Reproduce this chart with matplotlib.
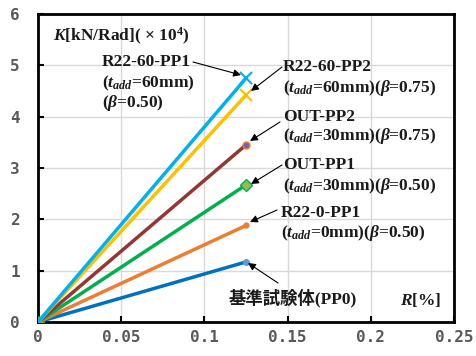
import matplotlib
matplotlib.use("Agg")
import matplotlib.pyplot as plt

plt.rcParams['mathtext.fontset'] = 'custom'
plt.rcParams['mathtext.rm'] = 'Liberation Serif:bold'
plt.rcParams['mathtext.it'] = 'Liberation Serif:italic:bold'
plt.rcParams['mathtext.bf'] = 'Liberation Serif:bold'

# Data
R = [0.0, 0.125]
series_names = ["PP0", "R22-0-PP1", "OUT-PP1", "OUT-PP2", "R22-60-PP2", "R22-60-PP1"]
K_PP0 = [0.0, 1.17]
K_R22_0_PP1 = [0.0, 1.88]
K_OUT_PP1 = [0.0, 2.67]
K_OUT_PP2 = [0.0, 3.45]
K_R22_60_PP2 = [0.0, 4.42]
K_R22_60_PP1 = [0.0, 4.75]
xticks = [0, 0.05, 0.1, 0.15, 0.2, 0.25]
xticklabels = ["0", "0.05", "0.1", "0.15", "0.2", "0.25"]
yticks = [0, 1, 2, 3, 4, 5, 6]

W, H = 477, 356
fig = plt.figure(figsize=(W / 100, H / 100), dpi=100)
ax = fig.add_axes([38 / W, 1 - 322 / H, (454 - 38) / W, (322 - 14) / H])

ax.plot(R, K_PP0, color='#0070C0', lw=2.5, marker='o', ms=4, mfc='#5B9BD5', mec='#5B9BD5', zorder=3)
ax.plot(R, K_R22_0_PP1, color='#ED7D31', lw=2.5, marker='o', ms=3.5, mfc='#ED7D31', mec='#ED7D31', zorder=3)
ax.plot(R, K_OUT_PP1, color='#00B050', lw=2.5, marker='D', ms=6, mfc='#8FBF50', mec='#00B050', mew=1, zorder=3)
ax.plot(R, K_OUT_PP2, color='#943634', lw=2.5, marker='o', ms=5, mfc='#7F5FA0', mec='#ED7D31', mew=1, zorder=3)
ax.plot(R, K_R22_60_PP2, color='#FFC000', lw=2.5, marker='x', ms=8, mew=1.5, mec='#FFC000', zorder=3)
ax.plot(R, K_R22_60_PP1, color='#00B0F0', lw=2.5, marker='x', ms=8, mew=1.5, mec='#00B0F0', zorder=4)

ax.set_xlim(0, 0.25)
ax.set_ylim(0, 6)
ax.set_xticks(xticks)
ax.set_xticklabels(xticklabels)
ax.set_yticks(yticks)
ax.grid(True, color='#D9D9D9', lw=1)
ax.set_axisbelow(True)
for s in ax.spines.values():
    s.set_linewidth(2)
    s.set_color('black')
ax.tick_params(direction='in', length=4, width=1.5, colors='black', labelcolor='#595959')
ax.tick_params(axis='y', pad=13)
ax.tick_params(axis='x', pad=6)
for lab in ax.get_xticklabels() + ax.get_yticklabels():
    lab.set_fontfamily('DejaVu Sans Mono')
    lab.set_fontsize(11.5)
    lab.set_fontweight('bold')

def fp(x, y):
    return (x / W, 1 - y / H)

fam = ['Liberation Serif', 'Noto Sans CJK JP']
serif = dict(family=fam, weight='bold', fontsize=12.5, color='#1a1a1a')

def put(x, y, s):
    fig.text(*fp(x, y), s, va='baseline', ha='left', **serif)

tadd = r"$t_{add}$"
beta = r"$\beta$"

put(53, 41, r"$K$[kN/Rad]( × 10$^{4}$)")
put(102, 66, "R22-60-PP1")
put(102, 87, "(" + tadd + "=60mm)")
put(102, 107, "(" + beta + "=0.50)")
put(283, 71, "R22-60-PP2")
put(283, 92, "(" + tadd + "=60mm)(" + beta + "=0.75)")
put(283, 121, "OUT-PP2")
put(283, 140, "(" + tadd + "=30mm)(" + beta + "=0.75)")
put(283, 169, "OUT-PP1")
put(283, 190, "(" + tadd + "=30mm)(" + beta + "=0.50)")
put(281, 217, "R22-0-PP1")
put(281, 237, "(" + tadd + "=0mm)(" + beta + "=0.50)")
put(229, 303, "基準試験体(PP0)")
put(400, 305, r"$R$[%]")

arrows = [((193, 62), (241, 75)), ((282, 67), (251, 91)), ((280, 122), (250, 141)),
          ((282, 165), (251, 184)), ((277, 210), (250, 222)), ((278, 283), (248, 263))]
for tail, tip in arrows:
    ax.annotate('', xy=fp(*tip), xytext=fp(*tail), xycoords='figure fraction',
                textcoords='figure fraction',
                arrowprops=dict(arrowstyle='-|>', color='black', lw=0.8, mutation_scale=11,
                                shrinkA=0, shrinkB=0))

fig.savefig('out.png', dpi=100)
